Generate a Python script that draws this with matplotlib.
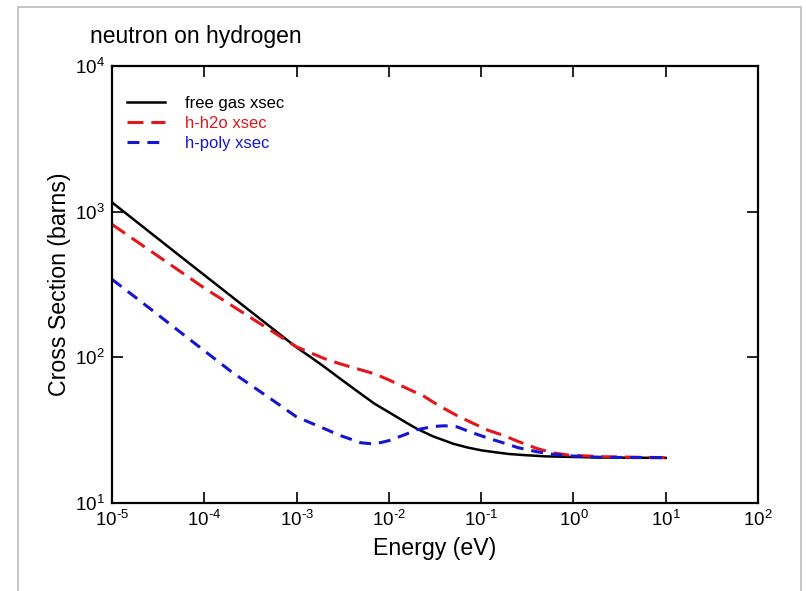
import matplotlib
matplotlib.use("Agg")
import matplotlib.pyplot as plt
from matplotlib.patches import Rectangle
from matplotlib.ticker import FuncFormatter
import numpy as np

plt.rcParams['font.family'] = ['Liberation Sans', 'DejaVu Sans']
plt.rcParams['mathtext.fontset'] = 'custom'
plt.rcParams['mathtext.rm'] = 'Liberation Sans'
plt.rcParams['mathtext.it'] = 'Liberation Sans:italic'
plt.rcParams['mathtext.bf'] = 'Liberation Sans:bold'

# energies (eV) and cross sections (barns)
free_e = [1e-5, 2e-5, 5e-5, 1e-4, 2e-4, 5e-4, 1e-3, 1.5e-3, 2e-3, 3e-3, 5e-3, 7e-3,
          1e-2, 1.5e-2, 2e-2, 3e-2, 5e-2, 7e-2, 0.1, 0.15, 0.2, 0.3, 0.5, 1, 2, 5, 10]
free_xs = [1158, 819, 518, 367, 260, 165, 117, 98, 86, 71, 56, 48,
           42, 36, 32.4, 28.7, 25.5, 24.1, 23.0, 22.2, 21.7, 21.3, 20.9, 20.7, 20.5, 20.45, 20.4]

h2o_e = [1e-5, 2e-5, 5e-5, 1e-4, 2e-4, 5e-4, 1e-3, 2e-3, 3e-3, 5e-3, 7e-3, 1e-2, 1.5e-2,
         2.4e-2, 3.5e-2, 5.4e-2, 7.6e-2, 0.12, 0.17, 0.25, 0.4, 0.6, 0.9, 2, 5, 10]
h2o_xs = [818, 604, 405, 299, 226, 156, 118, 98, 90, 82, 77, 70, 62,
          54, 46.5, 40, 36, 31.5, 29.3, 26.5, 23.7, 22.1, 21.3, 20.8, 20.6, 20.5]

poly_e = [1e-5, 2e-5, 5e-5, 1e-4, 2e-4, 5e-4, 1e-3, 2e-3, 3e-3, 5e-3, 7e-3, 1e-2,
          1.5e-2, 2e-2, 3e-2, 4e-2, 5.5e-2, 8e-2, 0.12, 0.17, 0.25, 0.4, 0.6, 1, 2, 5, 10]
poly_xs = [343, 245, 156, 111, 79, 53, 39, 32.4, 29, 25.9, 25.4, 26.8,
           29.5, 31.8, 33.5, 33.9, 33.3, 30.4, 27.8, 26, 24, 22.5, 21.6, 21.0, 20.6, 20.5, 20.5]


def decade(v, pos):
    p = int(round(np.log10(v)))
    if p < 0:
        return r'$10^{\text{-}%d}$' % (-p)
    return r'$10^{%d}$' % p


fig = plt.figure(figsize=(8.06, 5.91), dpi=100)
fig.patches.append(Rectangle((18/806, -0.05), 783/806, 1.05 - 7/591, transform=fig.transFigure,
                             fill=False, edgecolor='#bbbbbb', linewidth=1.2))
ax = fig.add_axes([112/806, 1 - 503/591, 646/806, 437/591])

ax.plot(free_e, free_xs, color='black', lw=1.8, label='free gas xsec')
l1, = ax.plot(h2o_e, h2o_xs, color='#e3161b', lw=2.2, label='h-h2o xsec')
l1.set_dashes([5.2, 2.6])
l2, = ax.plot(poly_e, poly_xs, color='#1616d0', lw=2.2, label='h-poly xsec')
l2.set_dashes([3.9, 2.6])

ax.set_xscale('log')
ax.set_yscale('log')
ax.set_xlim(1e-5, 1e2)
ax.set_ylim(1e1, 1e4)
ax.minorticks_off()
ax.xaxis.set_major_formatter(FuncFormatter(decade))
ax.yaxis.set_major_formatter(FuncFormatter(decade))
ax.tick_params(which='major', direction='in', length=8, width=1.2, top=True, right=True,
               labelsize=13.5, pad=5)
for s in ax.spines.values():
    s.set_linewidth(1.6)

ax.set_xlabel('Energy (eV)', fontsize=16.7, labelpad=5)
ax.set_ylabel('Cross Section (barns)', fontsize=16.7, labelpad=3)
fig.text(90/806, 1 - 36/591, 'neutron on hydrogen', fontsize=16.5, va='center', ha='left')

ax.legend(loc='upper left', frameon=False, fontsize=12, labelcolor='linecolor',
          handlelength=2.3, handletextpad=1.2, labelspacing=0.3,
          bbox_to_anchor=(0.0, 0.965))

fig.savefig('out.png', dpi=100)
